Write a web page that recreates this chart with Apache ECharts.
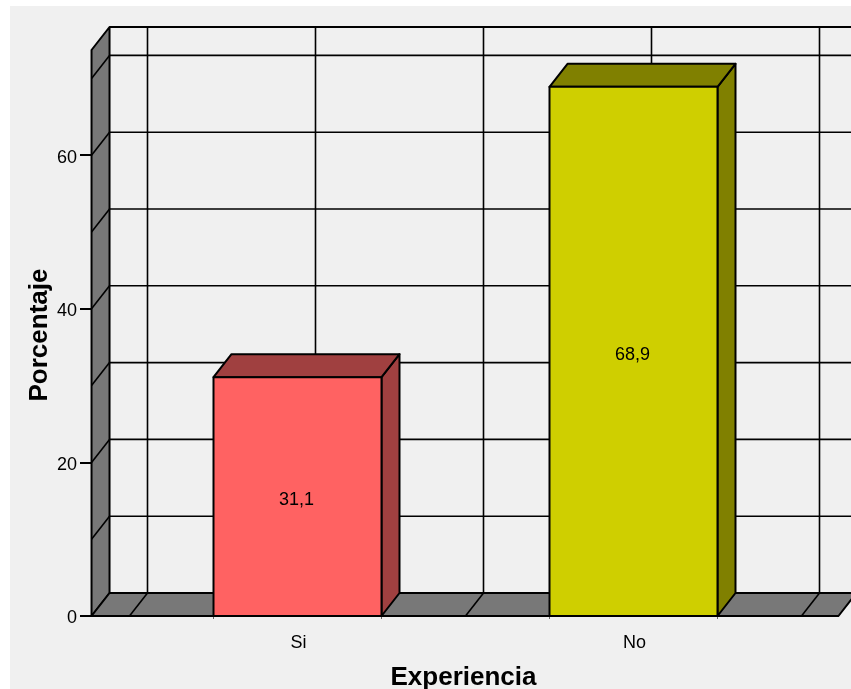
<!DOCTYPE html>
<html>
<head>
<meta charset="utf-8">
<style>html,body{margin:0;padding:0;background:#fff}#chart{width:851px;height:689px}</style>
<script src="https://cdn.jsdelivr.net/npm/echarts@6/dist/echarts.min.js"></script>
</head>
<body>
<div id="chart"></div>
<script>
// Experiencia: percentage of responses per category
const categories = ['Si', 'No'];
const percentages = [31.1, 68.9];
const frontColors = ['#ff6262', '#cfcf00'];
const shadeColors = ['#a04040', '#808000'];
const valueTicks = [0, 20, 40, 60];
const wallLines = [10, 20, 30, 40, 50, 60, 70];
const floorLines = [0.5, 1, 1.5, 2, 2.5];

// Extents of the 3D box in data units
const boxLeft = 0.387, boxRight = 2.61, boxTop = 73.7;
// Screen offset of the back plane relative to the front plane
const DX = 18, DY = -23;
const barHalf = 0.25;
const barEdges = categories.flatMap((c, i) => [i + 1 - barHalf, i + 1 + barHalf]);
const OUTLINE = { stroke: '#000', lineWidth: 2, lineJoin: 'round' };
const GRIDLINE = { stroke: '#000', lineWidth: 1.6 };

const poly = (points, fill, style) => ({
  type: 'polygon', shape: { points },
  style: Object.assign({ fill }, style || OUTLINE)
});
const seg = (a, b, style) => ({
  type: 'line', shape: { x1: a[0], y1: a[1], x2: b[0], y2: b[1] },
  style: Object.assign({ fill: null }, style || GRIDLINE)
});
const back = p => [p[0] + DX, p[1] + DY];

function renderBox(params, api) {
  const bl = api.coord([boxLeft, 0]), br = api.coord([boxRight, 0]);
  const tl = api.coord([boxLeft, boxTop]), tr = api.coord([boxRight, boxTop]);
  const children = [
    poly([bl, back(bl), back(tl), tl], '#787878'),
    poly([bl, back(bl), back(br), br], '#787878')
  ];
  wallLines.forEach(v => {
    const p = api.coord([boxLeft, v]);
    children.push(seg(p, back(p)));
    children.push(seg(back(p), back(api.coord([boxRight, v]))));
  });
  floorLines.forEach(x => {
    const p = api.coord([x, 0]);
    children.push(seg(p, back(p)));
    children.push(seg(back(p), back(api.coord([x, boxTop]))));
  });
  children.push(seg(back(tl), back(tr), OUTLINE));
  children.push(seg(back(bl), back(br), OUTLINE));
  children.push(seg(bl, br, OUTLINE));
  return { type: 'group', children };
}

function renderBar(params, api) {
  const i = params.dataIndex, x = api.value(0), v = api.value(1);
  const a = api.coord([x - barHalf, 0]), b = api.coord([x + barHalf, 0]);
  const c = api.coord([x + barHalf, v]), d = api.coord([x - barHalf, v]);
  const mid = api.coord([x, v / 2]);
  return {
    type: 'group',
    children: [
      poly([b, back(b), back(c), c], shadeColors[i]),
      poly([d, c, back(c), back(d)], shadeColors[i]),
      poly([a, b, c, d], frontColors[i]),
      {
        type: 'text',
        style: {
          x: mid[0] - 1, y: mid[1] + 3.5,
          text: v.toFixed(1).replace('.', ','),
          fill: '#000', font: '18px "Liberation Sans", Arial, sans-serif',
          align: 'center', verticalAlign: 'middle'
        }
      }
    ]
  };
}

const chart = echarts.init(document.getElementById('chart'));
chart.setOption({
  animation: false,
  backgroundColor: '#ffffff',
  textStyle: { fontFamily: '"Liberation Sans", Arial, sans-serif' },
  graphic: [{
    type: 'rect', z: -10, silent: true,
    shape: { x: 10, y: 6, width: 841, height: 683 },
    style: { fill: '#f0f0f0' }
  }],
  grid: { left: 129.5, right: 49.5, top: 50, bottom: 73, containLabel: false, outerBoundsMode: 'none' },
  xAxis: {
    type: 'value', min: 0.5, max: 2.5, interval: 0.5,
    axisLine: { show: false }, splitLine: { show: false },
    axisTick: { show: true, length: 3, customValues: barEdges, lineStyle: { color: '#666', width: 1 } },
    axisLabel: {
      color: '#000', fontSize: 18, margin: 18, hideOverlap: false, padding: [0, 0, 0, 2],
      formatter: v => (Number.isInteger(v) ? categories[v - 1] : '')
    },
    name: 'Experiencia', nameLocation: 'middle', nameGap: 49,
    nameTextStyle: { color: '#000', fontSize: 26, fontWeight: 'bold', padding: [0, 4, 0, 0] }
  },
  yAxis: {
    type: 'value', min: 0, max: boxTop, offset: 37.5,
    axisLine: { show: true, lineStyle: { color: '#000', width: 2 } },
    axisTick: { show: true, length: 12, customValues: valueTicks, lineStyle: { color: '#000', width: 2 } },
    axisLabel: { color: '#000', fontSize: 18, margin: 15, customValues: valueTicks, verticalAlign: 'top', lineHeight: 5 },
    splitLine: { show: false },
    name: 'Porcentaje', nameLocation: 'middle', nameGap: 39, nameMoveOverlap: false,
    nameTextStyle: { color: '#000', fontSize: 26, fontWeight: 'bold', padding: [0, 4, 0, 0] }
  },
  series: [
    { type: 'custom', z: 1, silent: true, clip: false, renderItem: renderBox, data: [[1, 0]] },
    { type: 'custom', z: 2, silent: true, clip: false, renderItem: renderBar,
      data: percentages.map((v, i) => [i + 1, v]) }
  ]
});
</script>
</body>
</html>
